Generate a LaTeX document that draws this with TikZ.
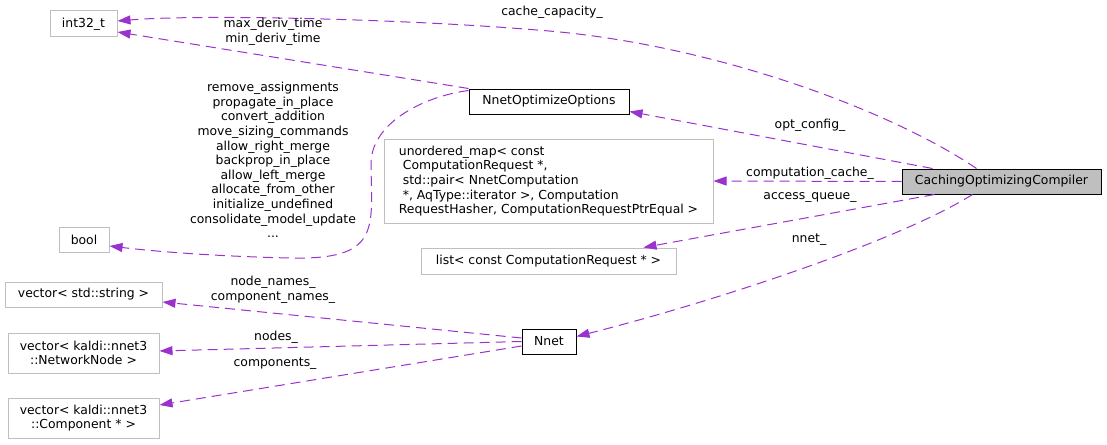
\documentclass[tikz,border=0pt]{standalone}
\usepackage{fontspec}
\setmainfont{DejaVu Sans}
\usetikzlibrary{arrows.meta, calc}

\definecolor{linkpurple}{HTML}{9A32CD}
\definecolor{boxgray}{HTML}{BFBFBF}

\begin{document}
\begin{tikzpicture}[x=1pt, y=-1pt,
    font=\fontsize{12.4}{14.6}\selectfont,
    every node/.style={inner sep=0pt, anchor=center},
    cls/.style={draw=boxgray, line width=1pt, fill=white},
    doc/.style={draw=black, line width=1pt, fill=white},
    root/.style={draw=black, line width=1pt, fill=boxgray},
    link/.style={draw=linkpurple, line width=1pt, dash pattern=on 10pt off 6pt,
        -{Triangle[length=13pt, width=9pt, fill=linkpurple]}},
    lbl/.style={align=center}]
        % Canvas
        \useasboundingbox (0,0) rectangle (1107,444);

        % Classes
        \node[cls, minimum width=67, minimum height=26] (int) at (83.5,24) {int32\_t};
        \node[cls, minimum width=50, minimum height=25] (bool) at (84,239.5) {bool};
        \node[doc, minimum width=160, minimum height=25] (opts) at (549,101.5) {NnetOptimizeOptions};
        \node[cls, minimum width=329, minimum height=84, align=left] (map) at (548.5,181)
            {unordered\_map< const\\
             \hspace*{4pt}ComputationRequest *,\\
             \hspace*{4pt}std::pair< NnetComputation\\
             \hspace*{4pt}*, AqType::iterator >, Computation\\
             RequestHasher, ComputationRequestPtrEqual >};
        \node[cls, minimum width=255, minimum height=26] (list) at (548.5,261) {list< const ComputationRequest * >};
        \node[root, minimum width=199, minimum height=25] (cmp) at (1001.5,181.5) {CachingOptimizingCompiler};
        \node[cls, minimum width=157, minimum height=25] (vstr) at (83.5,294.5) {vector< std::string >};
        \node[cls, minimum width=151, minimum height=40, align=center] (vnode) at (83.5,353)
            {vector< kaldi::nnet3\\::NetworkNode >};
        \node[cls, minimum width=151, minimum height=40, align=center] (vcomp) at (83.5,418)
            {vector< kaldi::nnet3\\::Component * >};
        \node[doc, minimum width=54, minimum height=25] (nnet) at (549,341.5) {Nnet};

        % Members of CachingOptimizingCompiler
        \draw[link] ([xshift=-25]cmp.north) .. controls (890,110) and (720,48) .. (560,32)
            .. controls (420,19) and (200,14) .. ([yshift=3]int.east);
        \node[lbl] (lcache) at (552,12) {cache\_capacity\_};
        \draw[link] ([xshift=31]cmp.north west) -- ([yshift=-10]opts.east);
        \node[lbl] (lopt) at (810,125) {opt\_config\_};
        \draw[link] (cmp.west) -- (map.east);
        \node[lbl] (lcomp) at (810,173) {computation\_cache\_};
        \draw[link] ([xshift=33]cmp.south west) -- ([xshift=-33]list.north east);
        \node[lbl] (lqueue) at (810,197) {access\_queue\_};
        \draw[link] ([xshift=71]cmp.south west) .. controls (900,240) and (720,300) .. ([yshift=5]nnet.east);
        \node[lbl] (lnnet) at (809,240) {nnet\_};

        % Members of NnetOptimizeOptions
        \draw[link] (opts.north west) -- ([yshift=-8]int.east);
        \node[lbl] (lderiv) at (273,31.5) {max\_deriv\_time\\min\_deriv\_time};
        \draw[link] ([yshift=-2]opts.north west) .. controls (420,97) and (370,125) .. (371,165)
            .. controls (372,230) and (380,260) .. (290,258)
            .. controls (220,256.4) and (160,252) .. ([yshift=-6.5]bool.east);
        \node[lbl] (lflags) at (273,160) {remove\_assignments\\propagate\_in\_place\\convert\_addition\\
            move\_sizing\_commands\\allow\_right\_merge\\backprop\_in\_place\\allow\_left\_merge\\
            allocate\_from\_other\\initialize\_undefined\\consolidate\_model\_update\\...};

        % Members of Nnet
        \draw[link] ([yshift=3.5]nnet.west) -- ([yshift=-7.5]vstr.east);
        \node[lbl] (lnames) at (273,290) {node\_names\_\\component\_names\_};
        \draw[link] (nnet.west) -- ([yshift=2]vnode.east);
        \node[lbl] (lnodes) at (276,337) {nodes\_};
        \draw[link] ([yshift=-4.5]nnet.west) -- ([yshift=13]vcomp.east);
        \node[lbl] (lcomps) at (275,364) {components\_};
    \end{tikzpicture}
\end{document}
